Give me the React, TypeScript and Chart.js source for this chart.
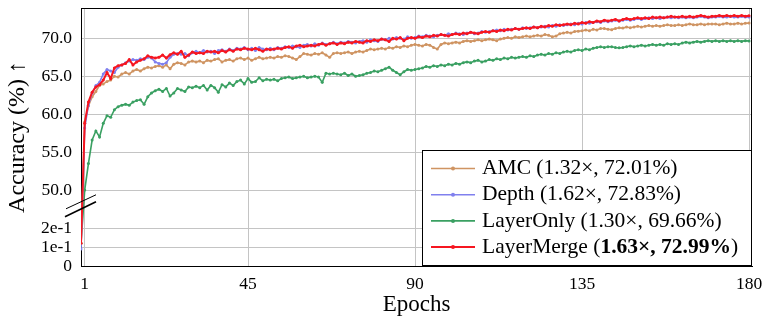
import React, { useEffect, useRef } from "react";
import { Chart, registerables } from "chart.js";

Chart.register(...registerables);

// ---------- data ----------
const epochs: number[] = Array.from({ length: 181 }, (_, i) => i);

const amc: number[] = [
  0.12,
  59.0, 61.1, 62.3, 63.0, 63.8, 64.0, 64.3, 64.5, 65.0, 64.9,
  65.3, 65.5, 65.3, 65.7, 65.9, 65.7, 66.0, 66.2, 66.1, 66.3,
  66.4, 66.2, 66.5, 66.0, 66.6, 66.8, 66.7, 66.5, 66.9, 67.0,
  66.9, 67.0, 66.8, 67.1, 67.0, 67.2, 67.3, 66.9, 67.1, 67.2,
  67.0, 67.3, 67.4, 67.2, 67.4, 67.1, 67.3, 67.5, 67.3, 67.4,
  67.5, 67.4, 67.6, 67.5, 67.7, 67.6, 67.4, 67.2, 67.6, 68.0,
  67.9, 67.8, 68.0, 67.9, 68.1, 67.8, 67.5, 68.0, 68.1, 68.0,
  68.1, 68.2, 68.0, 68.2, 68.3, 68.2, 68.4, 68.6, 68.5, 68.6,
  68.7, 68.6, 68.8, 68.7, 68.9, 68.8, 69.0, 68.9, 69.1, 69.2,
  69.1, 69.0, 69.2, 69.1, 68.8, 68.6, 69.2, 69.4, 69.3, 69.4,
  69.5, 69.4, 69.6, 69.7, 69.6, 69.7, 69.8, 69.7, 69.8, 69.9,
  69.8, 69.7, 69.9, 70.0, 70.1, 70.0, 70.2, 70.1, 70.2, 70.3,
  70.2, 70.3, 70.4, 70.3, 70.5, 70.4, 70.2, 70.3, 70.6, 70.7,
  70.8, 70.7, 70.9, 70.95, 71.0, 71.1, 71.0, 71.2, 71.1, 71.3,
  71.3, 71.2, 71.15, 71.3, 71.4, 71.35, 71.5, 71.4, 71.5, 71.6,
  71.5, 71.6, 71.7, 71.6, 71.7, 71.6, 71.7, 71.8, 71.7, 71.7,
  71.8, 71.7, 71.8, 71.9, 71.8, 71.8, 71.9, 71.8, 71.9, 71.9,
  71.9, 71.8, 71.9, 72.0, 71.9, 71.9, 72.0, 71.9, 72.0, 72.01,
];

const depth: number[] = [
  0.09,
  58.2, 61.2, 62.8, 63.8, 64.2, 65.3, 65.9, 65.7, 65.5, 66.2,
  66.5, 66.8, 67.0, 67.2, 67.1, 67.3, 67.2, 67.5, 67.4, 66.9,
  66.7, 66.6, 66.8, 67.5, 67.9, 68.0, 67.9, 68.0, 67.7, 68.1,
  68.3, 68.1, 68.4, 68.2, 68.3, 68.0, 68.4, 68.5, 68.3, 68.6,
  68.4, 68.7, 68.6, 68.8, 68.5, 68.7, 68.4, 68.8, 68.6, 68.5,
  68.7, 68.5, 68.8, 68.7, 68.9, 68.8, 69.0, 68.9, 68.8, 69.1,
  69.2, 69.0, 69.3, 69.1, 69.4, 69.2, 69.3, 69.5, 69.3, 69.5,
  69.4, 69.6, 69.5, 69.4, 69.6, 69.7, 69.5, 69.8, 69.7, 69.6,
  69.9, 69.8, 70.0, 69.9, 70.1, 70.0, 69.9, 70.2, 70.0, 70.1,
  70.3, 70.2, 70.4, 70.3, 70.2, 70.4, 70.5, 70.4, 70.6, 70.5,
  70.7, 70.6, 70.5, 70.7, 70.8, 70.6, 70.7, 70.9, 70.8, 70.9,
  71.0, 71.1, 71.0, 71.2, 71.1, 71.2, 71.3, 71.2, 71.4, 71.3,
  71.4, 71.5, 71.4, 71.5, 71.6, 71.5, 71.7, 71.6, 71.8, 71.7,
  71.8, 71.9, 71.8, 72.0, 71.9, 72.1, 72.0, 72.1, 72.2, 72.1,
  72.3, 72.2, 72.3, 72.4, 72.3, 72.4, 72.5, 72.4, 72.5, 72.6,
  72.5, 72.6, 72.7, 72.6, 72.7, 72.6, 72.7, 72.8, 72.7, 72.8,
  72.7, 72.8, 72.7, 72.8, 72.7, 72.8, 72.9, 72.8, 72.7, 72.8,
  72.8, 72.9, 72.8, 72.8, 72.9, 72.8, 72.8, 72.9, 72.8, 72.83,
];

const layerOnly: number[] = [
  0.12,
  50.0, 53.5, 56.6, 57.8, 57.0, 58.8, 59.8, 59.6, 60.6, 61.0,
  61.2, 61.3, 61.2, 61.6, 61.8, 61.9, 61.3, 62.3, 62.8, 63.1,
  63.3, 63.0, 63.4, 62.4, 62.8, 63.4, 63.2, 63.0, 63.6, 63.5,
  63.7, 63.5, 63.8, 63.2, 63.8, 63.5, 62.9, 63.9, 63.6, 64.1,
  63.8, 64.3, 64.5, 64.0, 64.7, 64.2, 64.3, 64.8, 64.4, 64.6,
  64.5, 64.6, 64.4, 64.7, 64.8, 64.9, 64.7, 64.8, 64.9, 65.0,
  64.8, 64.9, 65.0, 64.9, 64.2, 65.4, 65.3, 65.4, 65.3, 65.2,
  65.4, 65.1, 65.3, 65.0, 65.1, 65.2, 65.4, 65.5, 65.7, 65.6,
  65.8, 66.0, 66.2, 65.8, 65.5, 65.2, 65.6, 65.9, 65.8, 65.9,
  66.0, 66.1, 66.3, 66.2, 66.4, 66.3, 66.5, 66.4, 66.6, 66.5,
  66.7, 66.6, 66.8, 66.9, 66.8, 67.0, 67.1, 66.9, 67.0, 67.2,
  67.1, 67.3, 67.2, 67.4, 67.3, 67.5, 67.4, 67.5, 67.6, 67.5,
  67.7, 67.6, 67.8, 67.9, 67.8, 68.0, 67.9, 68.1, 68.0, 68.2,
  68.3, 68.2, 68.4, 68.5, 68.4, 68.6, 68.5, 68.7, 68.8, 68.9,
  68.8, 68.9, 68.9, 68.8, 68.75, 68.8, 68.9, 69.0, 68.9, 69.0,
  69.1, 69.0, 69.1, 69.2, 69.1, 69.2, 69.1, 69.3, 69.2, 69.3,
  69.2, 69.4, 69.5, 69.4, 69.5, 69.6, 69.5, 69.6, 69.7, 69.6,
  69.7, 69.6, 69.7, 69.6, 69.7, 69.6, 69.7, 69.6, 69.7, 69.66,
];

const layerMerge: number[] = [
  0.12,
  58.8, 61.6, 62.9, 63.6, 63.9, 64.5, 65.5, 64.7, 66.1, 66.4,
  66.5, 66.7, 67.2, 66.5, 66.9, 67.1, 67.3, 67.7, 67.5, 67.4,
  67.5, 67.8, 67.4, 67.85, 68.1, 67.9, 68.3, 67.5, 67.8, 68.2,
  68.0, 68.1, 68.0, 68.3, 68.2, 68.3, 68.1, 68.4, 68.2, 68.5,
  68.3, 68.6, 68.5, 68.7, 68.6, 68.5, 68.7, 68.5, 68.3, 68.6,
  68.5, 68.6, 68.7, 68.6, 68.8, 68.9, 68.7, 69.0, 69.1, 68.9,
  69.0, 69.1, 69.0, 69.2, 69.3, 69.1, 69.3, 69.4, 69.2, 69.4,
  69.3, 69.5, 69.4, 69.6, 69.5, 69.4, 69.7, 69.6, 69.8, 69.7,
  69.9, 69.8, 69.6, 70.0, 69.9, 70.1, 69.7, 70.0, 70.1, 70.0,
  70.2, 70.1, 70.3, 70.2, 70.4, 70.3, 70.5, 70.4, 70.3, 70.5,
  70.6, 70.5, 70.7, 70.6, 70.8, 70.7, 70.6, 70.8, 70.9, 70.8,
  71.0, 70.9, 71.1, 71.0, 71.2, 71.1, 71.3, 71.2, 71.3, 71.4,
  71.3, 71.5, 71.4, 71.6, 71.5, 71.7, 71.6, 71.8, 71.7, 71.8,
  71.9, 71.8, 72.0, 71.9, 72.1, 72.0, 72.2, 72.1, 72.3, 72.2,
  72.4, 72.3, 72.4, 72.5, 72.3, 72.5, 72.6, 72.5, 72.6, 72.7,
  72.6, 72.7, 72.6, 72.8, 72.7, 72.8, 72.7, 72.8, 72.9, 72.8,
  72.8, 72.9, 72.8, 72.9, 72.8, 72.9, 73.0, 72.9, 72.8, 72.9,
  72.9, 73.0, 72.9, 73.0, 72.9, 73.0, 72.9, 73.0, 72.9, 72.99,
];

const xTickValues: number[] = [1, 45, 90, 135, 180];
const yTickValues: number[] = [0, 0.1, 0.2, 50, 55, 60, 65, 70];
const yTickLabels: string[] = ["0", "1e-1", "2e-1", "50.0", "55.0", "60.0", "65.0", "70.0"];

const seriesNames: string[] = ["AMC", "Depth", "LayerOnly", "LayerMerge"];
const legendPlain: string[] = [
  "AMC (1.32×, 72.01%)",
  "Depth (1.62×, 72.83%)",
  "LayerOnly (1.30×, 69.66%)",
];
const legendBoldPrefix = "LayerMerge (";
const legendBoldPart = "1.63×, 72.99%";
const legendBoldSuffix = ")";

const colors: string[] = [
  "rgb(207,148,98)",
  "rgb(128,128,238)",
  "rgb(58,160,98)",
  "rgb(246,22,32)",
];

// broken axis mapping: [0,0.2] -> [0,5], [0.2,50] -> [5,10], [50,..] -> v-40
function toAxis(v: number): number {
  if (v <= 0.2) return v * 25;
  if (v < 50) return 5 + ((v - 0.2) / 49.8) * 5;
  return v - 40;
}

const FONT = "'Liberation Serif', 'Times New Roman', serif";

const framePlugin = {
  id: "frameAndBreak",
  afterDatasetsDraw(chart: any) {
    const { ctx, chartArea } = chart;
    const { left, right, top, bottom } = chartArea;
    ctx.save();
    ctx.strokeStyle = "#000";
    ctx.lineWidth = 1;
    ctx.beginPath();
    ctx.moveTo(left, top + 0.5);
    ctx.lineTo(right, top + 0.5);
    ctx.moveTo(right - 0.5, top);
    ctx.lineTo(right - 0.5, bottom);
    ctx.stroke();
    // axis break marks
    const yc = chart.scales.y.getPixelForValue(8);
    ctx.lineWidth = 1;
    ctx.beginPath();
    ctx.moveTo(left - 15, yc - 3.5 + 7);
    ctx.lineTo(left + 15, yc - 3.5 - 7);
    ctx.stroke();
    ctx.lineWidth = 1.6;
    ctx.beginPath();
    ctx.moveTo(left - 16, yc + 3.5 + 8);
    ctx.lineTo(left + 15, yc + 3.5 - 7);
    ctx.stroke();
    ctx.restore();
  },
};

const legendPlugin = {
  id: "boxLegend",
  afterDraw(chart: any) {
    const { ctx, chartArea } = chart;
    const w = 330;
    const h = 116;
    const x0 = chartArea.right - w;
    const y0 = chartArea.bottom - h;
    ctx.save();
    ctx.fillStyle = "#fff";
    ctx.fillRect(x0, y0, w, h);
    ctx.strokeStyle = "#000";
    ctx.lineWidth = 1;
    ctx.strokeRect(x0 + 0.5, y0 + 0.5, w - 1, h - 1);
    ctx.textBaseline = "middle";
    ctx.textAlign = "left";
    const fs = 21.5;
    for (let i = 0; i < seriesNames.length; i++) {
      const y = y0 + 18.5 + i * 26.2;
      ctx.strokeStyle = colors[i];
      ctx.lineWidth = i === 3 ? 2 : 1.6;
      ctx.beginPath();
      ctx.moveTo(x0 + 9, y);
      ctx.lineTo(x0 + 53, y);
      ctx.stroke();
      ctx.fillStyle = colors[i];
      ctx.beginPath();
      ctx.arc(x0 + 31, y, 2, 0, Math.PI * 2);
      ctx.fill();
      ctx.fillStyle = "#000";
      const tx = x0 + 60;
      if (i < 3) {
        ctx.font = `${fs}px ${FONT}`;
        ctx.fillText(legendPlain[i], tx, y);
      } else {
        ctx.font = `${fs}px ${FONT}`;
        ctx.fillText(legendBoldPrefix, tx, y);
        let dx = ctx.measureText(legendBoldPrefix).width;
        ctx.font = `bold ${fs}px ${FONT}`;
        ctx.fillText(legendBoldPart, tx + dx, y);
        dx += ctx.measureText(legendBoldPart).width;
        ctx.font = `${fs}px ${FONT}`;
        ctx.fillText(legendBoldSuffix, tx + dx, y);
      }
    }
    ctx.restore();
  },
};

export default function App() {
  const canvasRef = useRef<HTMLCanvasElement | null>(null);

  useEffect(() => {
    if (!canvasRef.current) return;
    const seriesData = [amc, depth, layerOnly, layerMerge];
    const orders = [2, 1, 3, 0];
    const datasets = seriesData.map((arr, i) => ({
      label: seriesNames[i],
      data: arr.map((v, j) => ({ x: epochs[j], y: toAxis(v) })),
      borderColor: colors[i],
      backgroundColor: colors[i],
      borderWidth: i === 3 ? 2 : 1.6,
      pointRadius: 1.5,
      pointBorderWidth: 0,
      pointBackgroundColor: colors[i],
      tension: 0,
      order: orders[i],
    }));

    const chart = new Chart(canvasRef.current, {
      type: "line",
      data: { datasets },
      options: {
        animation: false,
        responsive: true,
        maintainAspectRatio: false,
        layout: { padding: { left: 0, top: 8, right: 11, bottom: 0 } },
        plugins: {
          legend: { display: false },
          tooltip: { enabled: false },
        },
        scales: {
          x: {
            type: "linear",
            min: 0,
            max: 180.8,
            afterBuildTicks: (s: any) => {
              s.ticks = xTickValues.map((v) => ({ value: v }));
            },
            afterFit: (s: any) => {
              s.height = 54;
              s.paddingLeft = 0;
              s.paddingRight = 0;
            },
            ticks: {
              autoSkip: false,
              maxRotation: 0,
              padding: 8,
              color: "#000",
              font: { family: FONT, size: 17.5 },
              callback: (v: any) => String(v),
            },
            grid: { color: "#c4c4c4", drawTicks: false, lineWidth: 1 },
            border: { color: "#000", width: 1 },
            title: {
              display: true,
              text: "Epochs",
              color: "#000",
              font: { family: FONT, size: 23 },
              padding: { top: 0, bottom: 1 },
            },
          },
          y: {
            type: "linear",
            min: 0,
            max: 34,
            afterBuildTicks: (s: any) => {
              s.ticks = yTickValues.map((v) => ({ value: toAxis(v) }));
            },
            afterFit: (s: any) => {
              s.width = 81;
              s.paddingTop = 0;
              s.paddingBottom = 0;
            },
            ticks: {
              autoSkip: false,
              padding: 9,
              color: "#000",
              font: { family: FONT, size: 17.5 },
              callback: (_v: any, idx: number) => yTickLabels[idx],
            },
            grid: { color: "#c4c4c4", drawTicks: false, lineWidth: 1 },
            border: { color: "#000", width: 1 },
            title: {
              display: true,
              text: "Accuracy (%) ↑",
              color: "#000",
              font: { family: FONT, size: 24 },
              padding: { top: 3, bottom: 0 },
            },
          },
        },
      },
      plugins: [framePlugin, legendPlugin],
    });
    return () => chart.destroy();
  }, []);

  return (
    <div style={{ position: "absolute", left: 0, top: 0, width: 763, height: 320 }}>
      <canvas ref={canvasRef} />
    </div>
  );
}
